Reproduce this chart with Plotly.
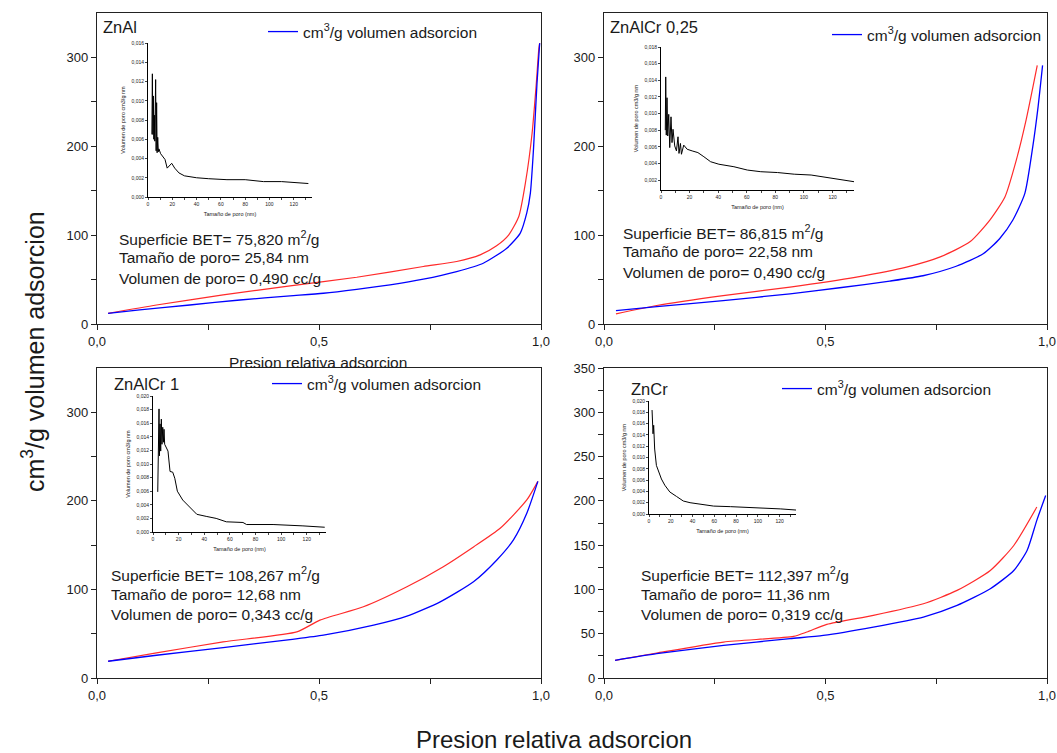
import plotly.graph_objects as go

# ---------------- data ----------------
panel_names = ["ZnAl", "ZnAlCr 0,25", "ZnAlCr 1", "ZnCr"]
bet_text = [
    ["Superficie BET= 75,820 m<sup>2</sup>/g", "Tamaño de poro= 25,84 nm", "Volumen de poro= 0,490 cc/g"],
    ["Superficie BET= 86,815 m<sup>2</sup>/g", "Tamaño de poro= 22,58 nm", "Volumen de poro= 0,490 cc/g"],
    ["Superficie BET= 108,267 m<sup>2</sup>/g", "Tamaño de poro= 12,68 nm", "Volumen de poro= 0,343 cc/g"],
    ["Superficie BET= 112,397 m<sup>2</sup>/g", "Tamaño de poro= 11,36 nm", "Volumen de poro= 0,319 cc/g"],
]
legend_label = "cm<sup>3</sup>/g volumen adsorcion"

# ZnAl isotherm
znal_ads_p = [0.025, 0.096, 0.209, 0.322, 0.435, 0.51, 0.585, 0.66, 0.735, 0.81, 0.87, 0.923, 0.953, 0.968, 0.976, 0.983, 0.991, 0.997]
znal_ads_v = [12, 15.8, 21.4, 27, 31.6, 34.6, 39, 44, 50.4, 59, 68.4, 85.3, 102, 125, 147, 196, 271, 316]
znal_des_p = [0.025, 0.134, 0.284, 0.435, 0.585, 0.735, 0.81, 0.863, 0.9, 0.927, 0.95, 0.965, 0.98, 0.989, 0.995, 0.997]
znal_des_v = [12, 21.4, 32.7, 42.9, 52.6, 64.7, 70.3, 77.8, 88, 100, 121, 159, 215, 268, 309, 316]

# ZnAlCr 0,25 isotherm
zac25_ads_p = [0.027, 0.119, 0.269, 0.42, 0.532, 0.645, 0.72, 0.795, 0.856, 0.893, 0.923, 0.95, 0.968, 0.98, 0.99]
zac25_ads_v = [15.1, 19.6, 26.4, 34, 40.8, 48.3, 54.3, 65, 79, 96, 117, 147, 200, 245, 291]
zac25_des_p = [0.027, 0.119, 0.269, 0.42, 0.57, 0.683, 0.759, 0.826, 0.871, 0.905, 0.931, 0.953, 0.978]
zac25_des_v = [11.3, 20.8, 32, 41.5, 52.8, 64, 75.5, 92.5, 117, 143, 185, 230, 291]

# ZnAlCr 1 isotherm
zac1_ads_p = [0.025, 0.134, 0.284, 0.435, 0.51, 0.623, 0.698, 0.773, 0.848, 0.9, 0.938, 0.968, 0.993]
zac1_ads_v = [18.9, 25.7, 34.3, 43.4, 48.3, 59.6, 69.8, 86, 108.7, 133, 156, 186, 222]
zac1_des_p = [0.025, 0.134, 0.284, 0.45, 0.502, 0.6, 0.698, 0.78, 0.848, 0.908, 0.968, 0.993]
zac1_des_v = [18.9, 28.3, 40.8, 52, 65.3, 80.4, 103, 125.7, 148, 169, 201, 222]

# ZnCr isotherm
zncr_ads_p = [0.025, 0.119, 0.27, 0.42, 0.495, 0.608, 0.721, 0.797, 0.872, 0.925, 0.955, 0.977, 0.997]
zncr_ads_v = [19.9, 27.4, 36.8, 44.4, 48.1, 57.5, 68.8, 82, 100.8, 121.4, 144, 178, 206]
zncr_des_p = [0.025, 0.119, 0.27, 0.428, 0.458, 0.503, 0.608, 0.721, 0.797, 0.872, 0.925, 0.977]
zncr_des_v = [19.9, 28.2, 40.6, 47, 51.9, 60.5, 70.7, 83.8, 98.9, 121.4, 149.6, 193]

# pore size distributions (insets)
znal_psd_d = [3.2, 3.6, 4.0, 4.4, 4.8, 5.2, 5.6, 6.0, 6.3, 6.7, 7.1, 7.5, 8.0, 8.5, 9.0, 10.4, 12, 14, 15.8, 17.5, 19.5, 22, 25.5, 30, 40, 50, 65, 80, 95, 110, 120, 132]
znal_psd_v = [0.0065, 0.0128, 0.0065, 0.0105, 0.0060, 0.0085, 0.0058, 0.0090, 0.0122, 0.0048, 0.0098, 0.0046, 0.0062, 0.0047, 0.0050, 0.0045, 0.0042, 0.0039, 0.0030, 0.0032, 0.0035, 0.0030, 0.0025, 0.0022, 0.0020, 0.0019, 0.0018, 0.0018, 0.0016, 0.0016, 0.0015, 0.0014]

zac25_psd_d = [3.0, 3.3, 3.7, 4.2, 4.7, 5.4, 6.1, 7.0, 7.7, 8.4, 9.6, 10.8, 11.9, 12.6, 13.6, 14.3, 15.9, 18.3, 21.8, 25.8, 30, 34.7, 40.5, 51, 60.4, 69.8, 81.5, 93.2, 105, 116.6, 126, 135]
zac25_psd_v = [0.0080, 0.0144, 0.0074, 0.0119, 0.0073, 0.0099, 0.0059, 0.0096, 0.0065, 0.0081, 0.0061, 0.0055, 0.0072, 0.0052, 0.0064, 0.0051, 0.0062, 0.0057, 0.0055, 0.0053, 0.0048, 0.0042, 0.0039, 0.0036, 0.0032, 0.0030, 0.0029, 0.0027, 0.0026, 0.0023, 0.0021, 0.0018]

zac1_psd_d = [3.7, 4.2, 4.7, 5.0, 5.5, 6.0, 6.5, 7.0, 7.6, 8.1, 8.6, 9.1, 10.7, 11.7, 13.3, 15.4, 17, 19, 23.2, 28.5, 34.2, 41.5, 49.3, 57.2, 70.2, 73, 93.7, 117, 134]
zac1_psd_v = [0.0059, 0.0146, 0.0181, 0.0112, 0.0159, 0.0119, 0.0166, 0.0129, 0.0154, 0.0132, 0.0151, 0.0129, 0.0124, 0.0119, 0.0089, 0.0088, 0.0079, 0.0060, 0.0047, 0.0037, 0.0026, 0.0023, 0.0020, 0.0015, 0.0014, 0.0011, 0.0011, 0.0009, 0.0007]

zncr_psd_d = [2.8, 3.4, 3.7, 4.3, 5.2, 6.8, 8.3, 11.4, 14.5, 19.1, 25.3, 31.5, 37.7, 46.9, 59.3, 74.7, 90, 105, 121, 135]
zncr_psd_v = [0.0184, 0.0165, 0.0142, 0.0157, 0.0115, 0.0086, 0.0077, 0.0062, 0.0051, 0.0039, 0.0031, 0.0023, 0.0020, 0.0017, 0.0014, 0.0013, 0.0012, 0.0010, 0.0009, 0.0007]

psd_yranges = [[0, 0.016], [0.0008, 0.018], [0, 0.020], [0, 0.020]]

iso = [
    (znal_ads_p, znal_ads_v, znal_des_p, znal_des_v),
    (zac25_ads_p, zac25_ads_v, zac25_des_p, zac25_des_v),
    (zac1_ads_p, zac1_ads_v, zac1_des_p, zac1_des_v),
    (zncr_ads_p, zncr_ads_v, zncr_des_p, zncr_des_v),
]
psd = [(znal_psd_d, znal_psd_v), (zac25_psd_d, zac25_psd_v), (zac1_psd_d, zac1_psd_v), (zncr_psd_d, zncr_psd_v)]

# ---------------- layout geometry (page pixels) ----------------
W, H = 1057, 753
def px(a):
    return a / W
def py(b):
    return 1 - b / H
def xd(a, b):
    return [px(a), px(b)]
def yd(top, bottom):
    return [py(bottom), py(top)]

main_dom = [
    (xd(97, 541), yd(13, 324)),
    (xd(604, 1047), yd(13, 324)),
    (xd(97, 541), yd(368, 678)),
    (xd(604, 1047), yd(368, 678)),
]
inset_dom = [
    (xd(148, 312), yd(43, 197)),
    (xd(661, 854), yd(47, 190)),
    (xd(153, 326), yd(396, 532)),
    (xd(649, 796), yd(401, 514)),
]
title_pos = [(101, 27), (608, 27), (112, 384), (629, 389)]
text_pos = [(117, 238), (621, 232), (109, 574), (639, 574)]
legend_text_pos = [(303, 32), (867, 35), (307, 384), (817, 389)]

FONT = "Arial, Liberation Sans, sans-serif"
TXT = "#1a1a1a"

fig = go.Figure()
layout = dict(
    width=W, height=H, margin=dict(l=0, r=0, t=0, b=0, pad=0, autoexpand=False),
    paper_bgcolor="white", plot_bgcolor="white",
    separators=",.", font=dict(family=FONT, color=TXT),
    showlegend=True,
)
annotations = []

for i in range(4):
    n = i + 1
    xa = "x" if n == 1 else f"x{n}"
    ya = "y" if n == 1 else f"y{n}"
    lg = "legend" if n == 1 else f"legend{n}"
    ap, av, dp, dv = iso[i]
    fig.add_trace(go.Scatter(x=dp, y=dv, mode="lines",
                             line=dict(color="#ff2a2a", width=1.2, shape="spline", smoothing=0.6),
                             xaxis=xa, yaxis=ya, showlegend=False, legend=lg))
    fig.add_trace(go.Scatter(x=ap, y=av, mode="lines",
                             line=dict(color="#0000ff", width=1.3, shape="spline", smoothing=0.6),
                             xaxis=xa, yaxis=ya, name=legend_label, showlegend=True, legend=lg))
    kx = "xaxis" if n == 1 else f"xaxis{n}"
    ky = "yaxis" if n == 1 else f"yaxis{n}"
    layout[kx] = dict(domain=main_dom[i][0], anchor=ya, range=[0, 1], tickmode="array",
                      tickvals=[0, 0.5, 1], tickformat=".1f", ticks="outside", ticklen=5,
                      minor=dict(tickvals=[0.25, 0.75], ticks="outside", ticklen=5, tickcolor="#222"),
                      showline=True, mirror=True, linecolor="#222", linewidth=1.3,
                      showgrid=False, zeroline=False, tickcolor="#222", automargin=False,
                      tickfont=dict(size=13, family=FONT, color=TXT))
    if i == 3:
        yt = dict(dtick=50, minor=dict(dtick=25, ticks="outside", ticklen=5, tickcolor="#222"))
    else:
        yt = dict(tickmode="array", tickvals=[0, 100, 200, 300],
                  minor=dict(tickvals=[50, 150, 250], ticks="outside", ticklen=5, tickcolor="#222"))
    layout[ky] = dict(domain=main_dom[i][1], anchor=xa, range=[0, 350], ticks="outside", ticklen=5,
                      showline=True, mirror=True, linecolor="#222", linewidth=1.3,
                      showgrid=False, zeroline=False, tickcolor="#222", automargin=False,
                      tickfont=dict(size=13, family=FONT, color=TXT), **yt)
    layout[lg] = dict(x=px(legend_text_pos[i][0] - 40), y=py(legend_text_pos[i][1]),
                      xanchor="left", yanchor="middle",
                      bgcolor="rgba(0,0,0,0)", borderwidth=0, font=dict(size=15.5, family=FONT, color=TXT))

    # insets
    m = i + 5
    d, v = psd[i]
    fig.add_trace(go.Scatter(x=d, y=v, mode="lines", line=dict(color="black", width=1),
                             xaxis=f"x{m}", yaxis=f"y{m}", showlegend=False))
    layout[f"xaxis{m}"] = dict(domain=inset_dom[i][0], anchor=f"y{m}", range=[0, 135], dtick=20,
                               ticks="outside", ticklen=2, tickwidth=0.8, automargin=False,
                               minor=dict(dtick=10, ticks="outside", ticklen=1.5),
                               showline=True, linecolor="black", linewidth=1, showgrid=False, zeroline=False,
                               tickfont=dict(size=5, family=FONT, color=TXT),
                               title=dict(text="Tamaño de poro (nm)", font=dict(size=5.5, family=FONT, color=TXT), standoff=6))
    layout[f"yaxis{m}"] = dict(domain=inset_dom[i][1], anchor=f"x{m}", range=psd_yranges[i], dtick=0.002,
                               tick0=0, tickformat=".3f", ticks="outside", ticklen=2, tickwidth=0.8, automargin=False,
                               showline=True, linecolor="black", linewidth=1, showgrid=False, zeroline=False,
                               tickfont=dict(size=5, family=FONT, color=TXT),
                               title=dict(text="Volumen de poro cm3/g nm", font=dict(size=5.5, family=FONT, color=TXT), standoff=5))

    # panel titles
    annotations.append(dict(text=panel_names[i], x=px(title_pos[i][0]), y=py(title_pos[i][1]),
                            xref="paper", yref="paper", xanchor="left", yanchor="middle", showarrow=False,
                            font=dict(size=16.5, family=FONT, color=TXT)))
    # BET info
    for k, line in enumerate(bet_text[i]):
        annotations.append(dict(text=line, x=px(text_pos[i][0]), y=py(text_pos[i][1] + 20 * k),
                                xref="paper", yref="paper", xanchor="left", yanchor="middle", showarrow=False,
                                font=dict(size=15.5, family=FONT, color=TXT)))

# axis titles
annotations.append(dict(text="Presion relativa adsorcion", x=px(318), y=py(362), xref="paper", yref="paper",
                        xanchor="center", yanchor="middle", showarrow=False, font=dict(size=15.5, family=FONT, color=TXT)))
annotations.append(dict(text="Presion relativa adsorcion", x=px(554), y=py(739), xref="paper", yref="paper",
                        xanchor="center", yanchor="middle", showarrow=False, font=dict(size=24, family=FONT, color=TXT)))
annotations.append(dict(text="cm<sup>3</sup>/g volumen adsorcion", x=px(33), y=py(352), xref="paper", yref="paper",
                        xanchor="center", yanchor="middle", textangle=-90, showarrow=False,
                        font=dict(size=25, family=FONT, color=TXT)))

layout["annotations"] = annotations
fig.update_layout(**layout)
fig.write_html("out.html", config={"displayModeBar": False},
               post_script="document.body.style.margin='0';document.body.style.overflow='hidden';")
